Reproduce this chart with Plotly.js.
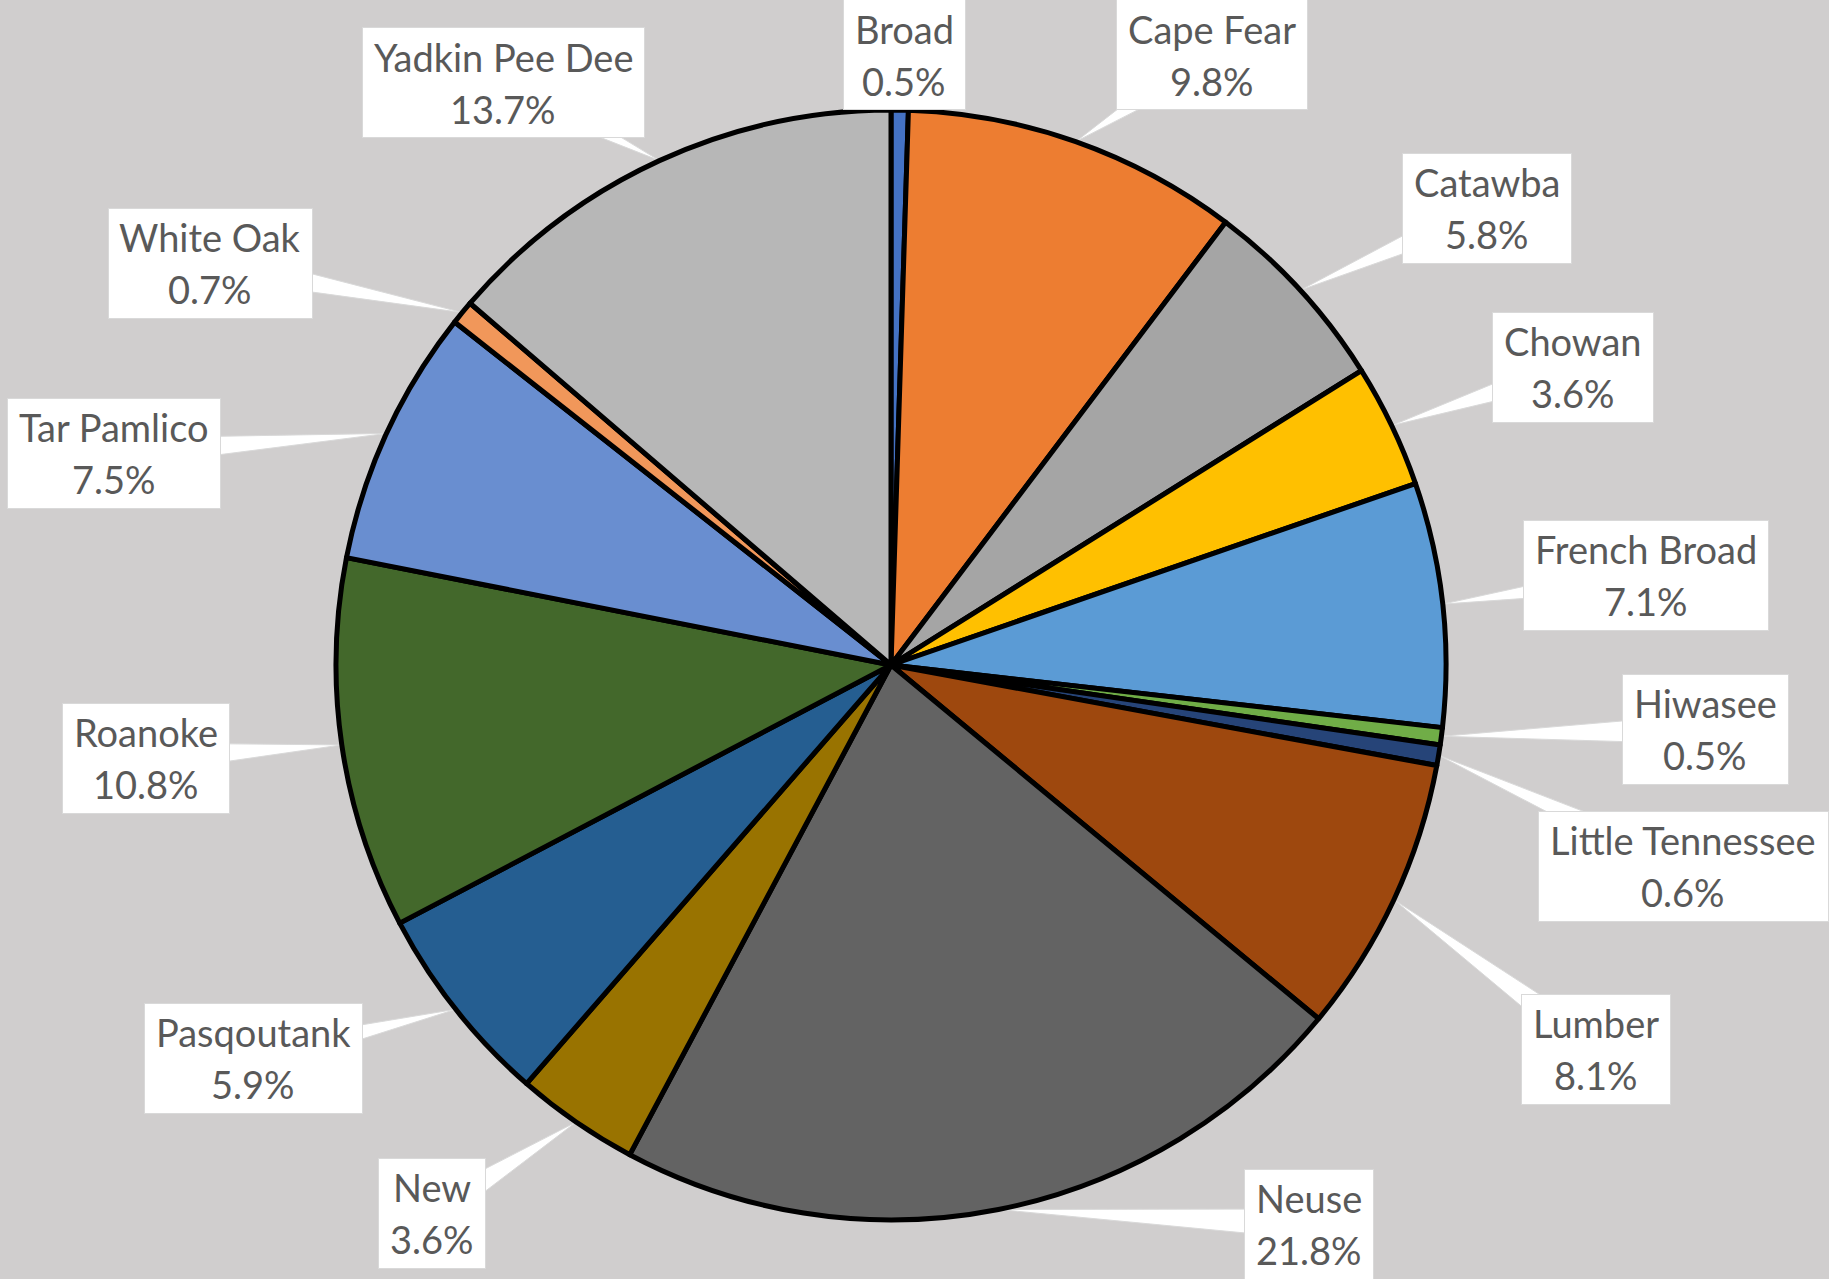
<!DOCTYPE html>
<html>
<head>
<meta charset="utf-8">
<script src="https://cdn.plot.ly/plotly-3.0.1.min.js"></script>
<style>html,body{margin:0;padding:0;background:#d0cece;}#chart{width:1829px;height:1279px;}</style>
</head>
<body>
<div id="chart"></div>
<script>
// ---- data ----
const basins = ["Broad","Cape Fear","Catawba","Chowan","French Broad","Hiwasee","Little Tennessee","Lumber","Neuse","New","Pasqoutank","Roanoke","Tar Pamlico","White Oak","Yadkin Pee Dee"];
const shares = [0.5, 9.8, 5.8, 3.6, 7.1, 0.5, 0.6, 8.1, 21.8, 3.6, 5.9, 10.8, 7.5, 0.7, 13.7];
const sliceColors = ["#4472c4","#ed7d31","#a5a5a5","#ffc000","#5b9bd5","#70ad47","#264478","#9e480e","#636363","#997300","#255e91","#43682b","#698ed0","#f1975a","#b7b7b7"];

// ---- layout constants (pixels) ----
const W = 1829, H = 1279;
const CX = 891, CY = 665, R = 555;
const FONT_FAMILY = 'Lato', FONT_SIZE = 38;
const BOX_H = 109, PAD_X = 11, LINE_OFF = 26;
// label box centres, same order as basins
const labelPos = [[904,55],[1212,55],[1487,208],[1573,367],[1646,575],[1705,729],[1683,866],[1596,1049],[1309,1224],[432,1213],[253,1058],[146,758],[114,453],[210,263],[503,83]];

function draw(){
  const ctx = document.createElement('canvas').getContext('2d');
  ctx.font = FONT_SIZE + 'px ' + FONT_FAMILY;
  const total = shares.reduce((a,b)=>a+b,0);
  const px = x => x / W;
  const py = y => 1 - y / H;
  const shapes = [], annotations = [];
  const font = {family:FONT_FAMILY + ', "Open Sans", sans-serif', size:FONT_SIZE, color:'#595959'};
  let cum = 0;
  shares.forEach((v,i)=>{
    const mid = (cum + v/2) / total * 2 * Math.PI;
    cum += v;
    const tx = CX + R * Math.sin(mid), ty = CY - R * Math.cos(mid);
    const [bx, by] = labelPos[i];
    const dx = bx - tx, dy = by - ty, len = Math.hypot(dx, dy) || 1;
    const nx = -dy/len * 15, ny = dx/len * 15;
    shapes.push({
      type:'path', xref:'paper', yref:'paper', layer:'below',
      path:`M${px(tx)},${py(ty)} L${px(bx+nx)},${py(by+ny)} L${px(bx-nx)},${py(by-ny)} Z`,
      fillcolor:'#ffffff', line:{color:'#d9d9d9', width:1}
    });
    const line1 = basins[i], line2 = shares[i].toFixed(1) + '%';
    const tw = Math.max(ctx.measureText(line1).width, ctx.measureText(line2).width);
    annotations.push({
      xref:'paper', yref:'paper', x:px(bx), y:py(by), xanchor:'center', yanchor:'middle',
      text:'&nbsp;', width:Math.round(tw + 2*PAD_X), height:BOX_H, borderpad:0,
      showarrow:false, bgcolor:'#ffffff', bordercolor:'#d9d9d9', borderwidth:1, font:font
    });
    annotations.push({
      xref:'paper', yref:'paper', x:px(bx), y:py(by - LINE_OFF), xanchor:'center', yanchor:'middle',
      text:line1, showarrow:false, font:font
    });
    annotations.push({
      xref:'paper', yref:'paper', x:px(bx), y:py(by + LINE_OFF), xanchor:'center', yanchor:'middle',
      text:line2, showarrow:false, font:font
    });
  });

  const trace = {
    type:'pie', labels:basins, values:shares, sort:false, direction:'clockwise', rotation:0,
    marker:{colors:sliceColors, line:{color:'#000000', width:5}},
    textinfo:'none', hoverinfo:'label+percent', showlegend:false,
    domain:{x:[(CX-R)/W,(CX+R)/W], y:[1-(CY+R)/H, 1-(CY-R)/H]}
  };
  const layout = {
    width:W, height:H, margin:{l:0,r:0,t:0,b:0},
    paper_bgcolor:'#d0cece', plot_bgcolor:'#d0cece',
    showlegend:false, shapes:shapes, annotations:annotations
  };
  Plotly.newPlot('chart',[trace],layout,{displayModeBar:false, staticPlot:true});
}
if (document.fonts && document.fonts.load) {
  document.fonts.load(FONT_SIZE + 'px ' + FONT_FAMILY).then(draw, draw);
} else { draw(); }
</script>
</body>
</html>
